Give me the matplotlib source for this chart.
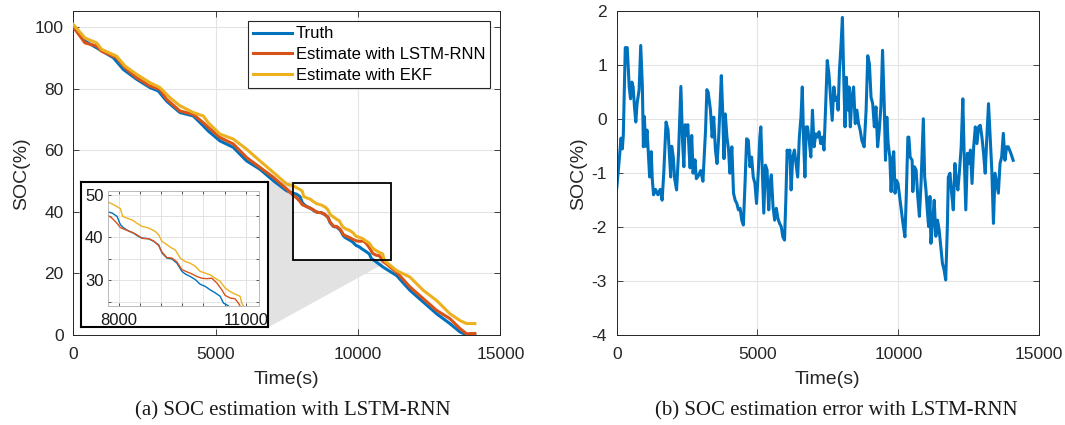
import numpy as np
import matplotlib
matplotlib.use('Agg')
import matplotlib.pyplot as plt
from matplotlib.patches import Rectangle, Polygon
from matplotlib.ticker import MultipleLocator

plt.rcParams['font.family'] = ['Liberation Sans', 'DejaVu Sans']
plt.rcParams['axes.unicode_minus'] = False

# SOC curves
truth_t = [0, 410, 820, 1405, 1756, 2224, 2692, 2985, 3277, 3745, 4213, 4564, 4740, 5150, 5618,
           6086, 6554, 7022, 7490, 7726, 7844, 7962, 8040, 8119, 8237, 8354, 8472, 8590, 8708,
           8825, 8943, 9022, 9139, 9257, 9375, 9493, 9571, 9689, 9807, 9924, 10042, 10160, 10278,
           10395, 10474, 10552, 10885, 11353, 11821, 12289, 12757, 13225, 13576, 13810, 14100]
truth_soc = [100.0, 95.4, 93.2, 90.0, 86.2, 83.0, 80.3, 79.2, 75.9, 72.2, 71.1, 67.9, 66.2, 63.0, 60.9,
             56.5, 53.8, 50.1, 46.8, 46.0, 45.7, 44.9, 43.0, 42.2, 41.5, 41.0, 40.2, 39.8, 39.7,
             39.1, 38.3, 36.4, 35.2, 35.0, 34.0, 32.1, 31.5, 30.9, 30.2, 29.1, 28.6, 27.8, 27.1,
             26.3, 24.7, 24.3, 22.0, 19.3, 14.5, 10.7, 6.9, 3.7, 1.0, 0.0, 0.0]

lstm_t = [0, 410, 820, 995, 1522, 1815, 2224, 2692, 3043, 3277, 3745, 4213, 4564, 4682, 5150, 5618,
          6086, 6554, 7022, 7490, 7726, 7844, 7962, 8040, 8158, 8315, 8433, 8550, 8708, 8825, 8943,
          9022, 9139, 9257, 9375, 9493, 9610, 9728, 9846, 9964, 10081, 10199, 10317, 10435, 10513,
          10631, 10749, 10827, 10866, 11353, 11821, 12289, 12757, 13225, 13576, 13810, 14100]
lstm_soc = [100.0, 94.8, 93.8, 92.1, 90.0, 86.7, 83.5, 80.8, 79.7, 76.5, 72.7, 71.6, 68.9, 67.9, 64.1, 62.0,
            57.6, 54.4, 51.2, 47.4, 45.3, 44.5, 43.3, 42.3, 41.8, 41.2, 40.6, 39.8, 39.7, 39.2, 38.1,
            36.6, 35.3, 35.2, 34.3, 32.5, 32.0, 31.5, 30.9, 30.5, 30.4, 30.5, 29.4, 27.8, 26.5,
            25.9, 25.7, 24.7, 24.0, 20.4, 15.6, 11.8, 8.0, 5.3, 2.1, 0.4, 0.5]

ekf_t = [0, 410, 820, 995, 1522, 1815, 2224, 2692, 3043, 3394, 3745, 4213, 4564, 4740, 5150, 5618,
         6086, 6554, 7022, 7490, 7726, 7844, 7962, 8040, 8095, 8197, 8315, 8433, 8550, 8708, 8865,
         8943, 9022, 9139, 9257, 9336, 9453, 9571, 9689, 9807, 9924, 10042, 10160, 10278, 10395,
         10513, 10631, 10749, 10866, 10906, 10945, 11353, 11821, 12289, 12757, 13225, 13576, 13810, 14100]
ekf_soc = [100.8, 96.4, 94.8, 92.7, 90.5, 87.3, 84.6, 81.9, 80.3, 77.0, 74.4, 72.2, 71.1, 68.9, 65.2, 63.6,
           60.3, 56.5, 52.8, 49.0, 48.4, 47.8, 47.2, 46.7, 44.9, 44.5, 44.1, 43.3, 42.6, 42.2, 41.4,
           40.6, 39.1, 38.3, 37.5, 37.1, 35.2, 34.4, 34.0, 33.3, 32.1, 31.7, 31.3, 30.5, 29.8,
           28.2, 27.4, 26.8, 26.3, 24.7, 24.0, 20.9, 18.8, 14.5, 11.2, 6.9, 4.7, 3.7, 3.7]

# estimation error
err_t = [0, 81, 151, 198, 233, 303, 373, 443, 490, 537, 583, 630, 677, 724, 794, 852, 911, 946, 981,
         1028, 1074, 1109, 1168, 1226, 1261, 1308, 1378, 1460, 1542, 1612, 1670, 1752, 1822, 1869,
         1916, 1951, 2009, 2056, 2126, 2197, 2278, 2337, 2384, 2430, 2477, 2524, 2571, 2606, 2664,
         2711, 2781, 2828, 2898, 2980, 3062, 3155, 3202, 3249, 3329, 3388, 3446, 3505, 3563, 3622,
         3715, 3762, 3809, 3856, 3914, 3972, 4019, 4089, 4148, 4206, 4265, 4323, 4382, 4440, 4498,
         4557, 4615, 4674, 4732, 4791, 4849, 4908, 4966, 5025, 5083, 5118, 5165, 5223, 5282, 5340,
         5399, 5445, 5492, 5551, 5609, 5668, 5726, 5784, 5843, 5901, 5960, 6006, 6053, 6112, 6147,
         6194, 6252, 6311, 6369, 6427, 6486, 6544, 6591, 6638, 6684, 6731, 6778, 6835, 6894, 6952,
         7011, 7069, 7128, 7186, 7245, 7303, 7362, 7420, 7478, 7537, 7595, 7654, 7712, 7771, 7829,
         7864, 7911, 7969, 8016, 8063, 8110, 8156, 8203, 8250, 8297, 8355, 8414, 8472, 8531, 8589,
         8647, 8706, 8788, 8858, 8916, 8975, 9033, 9092, 9150, 9208, 9267, 9325, 9384, 9442, 9501,
         9547, 9594, 9641, 9700, 9746, 9793, 9840, 9886, 9933, 9991, 10050, 10108, 10167, 10237,
         10284, 10342, 10377, 10423, 10493, 10517, 10575, 10634, 10692, 10751, 10809, 10891, 10938,
         10984, 11031, 11078, 11125, 11160, 11218, 11277, 11335, 11394, 11452, 11510, 11569, 11627,
         11686, 11744, 11779, 11838, 11896, 11955, 12013, 12060, 12118, 12177, 12235, 12294, 12340,
         12399, 12457, 12504, 12563, 12621, 12679, 12738, 12796, 12855, 12913, 12972, 13030, 13089,
         13147, 13206, 13264, 13323, 13381, 13439, 13498, 13556, 13615, 13673, 13732, 13790, 13848,
         13907, 14000, 14082]
err_val = [-1.28, -0.80, -0.35, -0.55, -0.30, 1.33, 1.33, 0.60, 0.38, 0.69, 0.60, 0.23, -0.05, 0.30,
           0.54, 1.37, 0.60, -0.51, 0.05, -0.50, -0.20, -0.50, -1.07, -0.60, -1.10, -1.40, -1.30,
           -1.40, -1.30, -1.50, -1.00, -0.05, -0.20, -0.63, -1.07, -0.50, -0.70, -1.10, -1.31, -0.60,
           0.61, -0.40, -0.88, -0.10, -0.30, -0.10, -0.60, -0.90, -0.30, -1.00, -0.75, -1.10, -1.05,
           -0.95, -1.15, -0.20, 0.55, 0.50, 0.17, -0.33, 0.04, -0.57, -0.82, -0.33, 0.81, 0.17, -0.73,
           0.10, -0.33, -0.57, -1.00, -0.51, -1.37, -1.50, -1.56, -1.68, -1.65, -1.87, -1.96, -1.19,
           -0.36, -0.39, -0.88, -0.70, -1.07, -1.19, -1.56, -1.00, -0.33, -0.14, -0.88, -1.74, -0.85,
           -0.94, -1.68, -1.19, -1.03, -1.62, -1.87, -1.65, -1.84, -1.93, -1.99, -2.18, -2.24, -1.50,
           -0.57, -0.70, -0.57, -1.31, -0.70, -0.57, -0.82, -1.07, -0.33, 0.04, 0.60, -0.39, -1.07,
           -0.14, -0.14, -0.39, -0.70, 0.17, -0.51, -0.27, -0.33, -0.23, -0.45, -0.33, -0.57, 0.23,
           1.09, 0.84, 0.41, -0.02, 0.60, 0.35, 0.41, 0.17, 0.91, 1.40, 1.89, 0.78, -0.14, 0.78, 0.17,
           0.60, -0.14, 0.41, 0.60, -0.08, 0.17, -0.08, -0.20, -0.39, -0.51, 0.17, 1.18, 1.03, 0.41,
           0.29, -0.14, 0.23, -0.51, -0.20, 0.23, 1.28, 0.29, -0.76, 0.04, -0.45, -0.70, -1.34, -0.76,
           -0.60, -1.37, -1.13, -1.19, -1.44, -1.68, -1.93, -2.18, -1.44, -0.33, -0.33, -0.70, -0.76,
           -1.34, -0.88, -0.94, -1.43, -1.80, -1.19, 0.01, -1.07, -1.31, -1.68, -1.99, -1.43, -2.30,
           -1.93, -1.50, -2.17, -1.87, -2.05, -2.36, -2.67, -2.79, -2.98, -1.99, -1.07, -1.00, -1.37,
           -1.68, -0.82, -1.13, -1.31, -0.94, -0.51, 0.38, -0.63, -1.68, -0.63, -0.82, -0.57, -1.19,
           -0.51, -0.14, -0.45, -0.14, -0.11, -0.33, -0.63, -1.00, -0.33, 0.29, -0.33, -0.94, -1.93,
           -1.00, -1.19, -1.37, -0.82, -0.70, -0.26, -0.76, -0.51, -0.51, -0.63, -0.76]

labels = ['Truth', 'Estimate with LSTM-RNN', 'Estimate with EKF']
colors = ['#0072BD', '#D95319', '#EDB120']
zoom_x = (7700, 11150)
zoom_y = (24.4, 49.4)

axcol = '#262626'
gridcol = '#e3e3e3'


def style(ax, fs=12.5):
    ax.grid(True, color=gridcol, lw=0.8)
    ax.set_axisbelow(True)
    ax.tick_params(direction='in', top=True, right=True, length=4, width=0.6,
                   labelsize=fs, colors=axcol)
    ax.tick_params(axis='x', pad=9)
    ax.tick_params(axis='y', pad=7)
    for s in ax.spines.values():
        s.set_color(axcol)
        s.set_linewidth(0.7)


fig = plt.figure(figsize=(10.65, 4.25), dpi=100)
ax1 = fig.add_axes([0.0688, 0.2118, 0.4011, 0.7612])
ax2 = fig.add_axes([0.5791, 0.2118, 0.3965, 0.7612])

# panel (a)
series = [(truth_t, truth_soc), (lstm_t, lstm_soc), (ekf_t, ekf_soc)]
for (t, v), c, lab in zip(series, colors, labels):
    ax1.plot(t, v, color=c, lw=2.2, label=lab, zorder=3)
ax1.set_xlim(0, 15000)
ax1.set_ylim(0, 105)
ax1.set_xticks([0, 5000, 10000, 15000])
ax1.set_yticks(np.arange(0, 101, 20))
style(ax1)
ax1.set_xlabel('Time(s)', fontsize=14, color=axcol, labelpad=6)
ax1.set_ylabel('SOC(%)', fontsize=14, color=axcol, labelpad=3)
leg = ax1.legend(loc='upper right', fontsize=12, frameon=True, fancybox=False,
                 edgecolor=axcol, framealpha=1, borderpad=0.3, handlelength=2.3,
                 handletextpad=0.25, labelspacing=0.35, borderaxespad=0.6)
leg.get_frame().set_linewidth(0.8)
leg.set_zorder(10)

ax1.add_patch(Rectangle((zoom_x[0], zoom_y[0]), zoom_x[1] - zoom_x[0], zoom_y[1] - zoom_y[0],
                        fill=False, ec='k', lw=1.3, zorder=4))

frame_pos = [0.0758, 0.2299, 0.1761, 0.3426]
fr = fig.add_axes(frame_pos, zorder=5)
fr.set_xticks([])
fr.set_yticks([])
for s in fr.spines.values():
    s.set_color('k')
    s.set_linewidth(1.5)

# gray wedge from inset frame to zoom box
fig.canvas.draw()
inv = ax1.transData.inverted()
tr = inv.transform(fig.transFigure.transform((frame_pos[0] + frame_pos[2], frame_pos[1] + frame_pos[3])))
br = inv.transform(fig.transFigure.transform((frame_pos[0] + frame_pos[2], frame_pos[1])))
wedge = Polygon([tr, (zoom_x[0], tr[1]), (zoom_x[0], zoom_y[0]), (zoom_x[1], zoom_y[0]), br],
                closed=True, fc='#e2e2e2', ec='none', zorder=1)
ax1.add_patch(wedge)

ins = fig.add_axes([0.1011, 0.2807, 0.1424, 0.2706], zorder=6)
for (t, v), c in zip(series, colors):
    ins.plot(t, v, color=c, lw=1.0)
ins.set_xlim(7740, 11320)
ins.set_ylim(24.1, 50.9)
ins.set_xticks([8000, 11000])
ins.set_yticks([30, 40, 50])
ins.xaxis.set_minor_locator(MultipleLocator(500))
ins.yaxis.set_minor_locator(MultipleLocator(5))
ins.grid(True, which='both', color=gridcol, lw=0.7)
ins.set_axisbelow(True)
ins.tick_params(which='both', direction='in', top=True, right=True, length=2, width=0.5,
                labelsize=12, colors='#1a1a1a', pad=3)
ins.tick_params(axis='x', pad=5)
for s in ins.spines.values():
    s.set_color('#b0b0b0')
    s.set_linewidth(0.6)

# panel (b)
ax2.plot(err_t, err_val, color=colors[0], lw=2.2)
ax2.set_xlim(0, 15000)
ax2.set_ylim(-4, 2)
ax2.set_xticks([0, 5000, 10000, 15000])
ax2.set_yticks(np.arange(-4, 3, 1))
style(ax2)
ax2.set_xlabel('Time(s)', fontsize=14, color=axcol, labelpad=6)
ax2.set_ylabel('SOC(%)', fontsize=14, color=axcol, labelpad=3)

fig.text(0.275, 0.022, '(a) SOC estimation with LSTM-RNN', ha='center', va='baseline',
         fontsize=15, family='Liberation Serif', color='#1a1a1a')
fig.text(0.785, 0.022, '(b) SOC estimation error with LSTM-RNN', ha='center', va='baseline',
         fontsize=15, family='Liberation Serif', color='#1a1a1a')

fig.savefig('out.png', dpi=100)
